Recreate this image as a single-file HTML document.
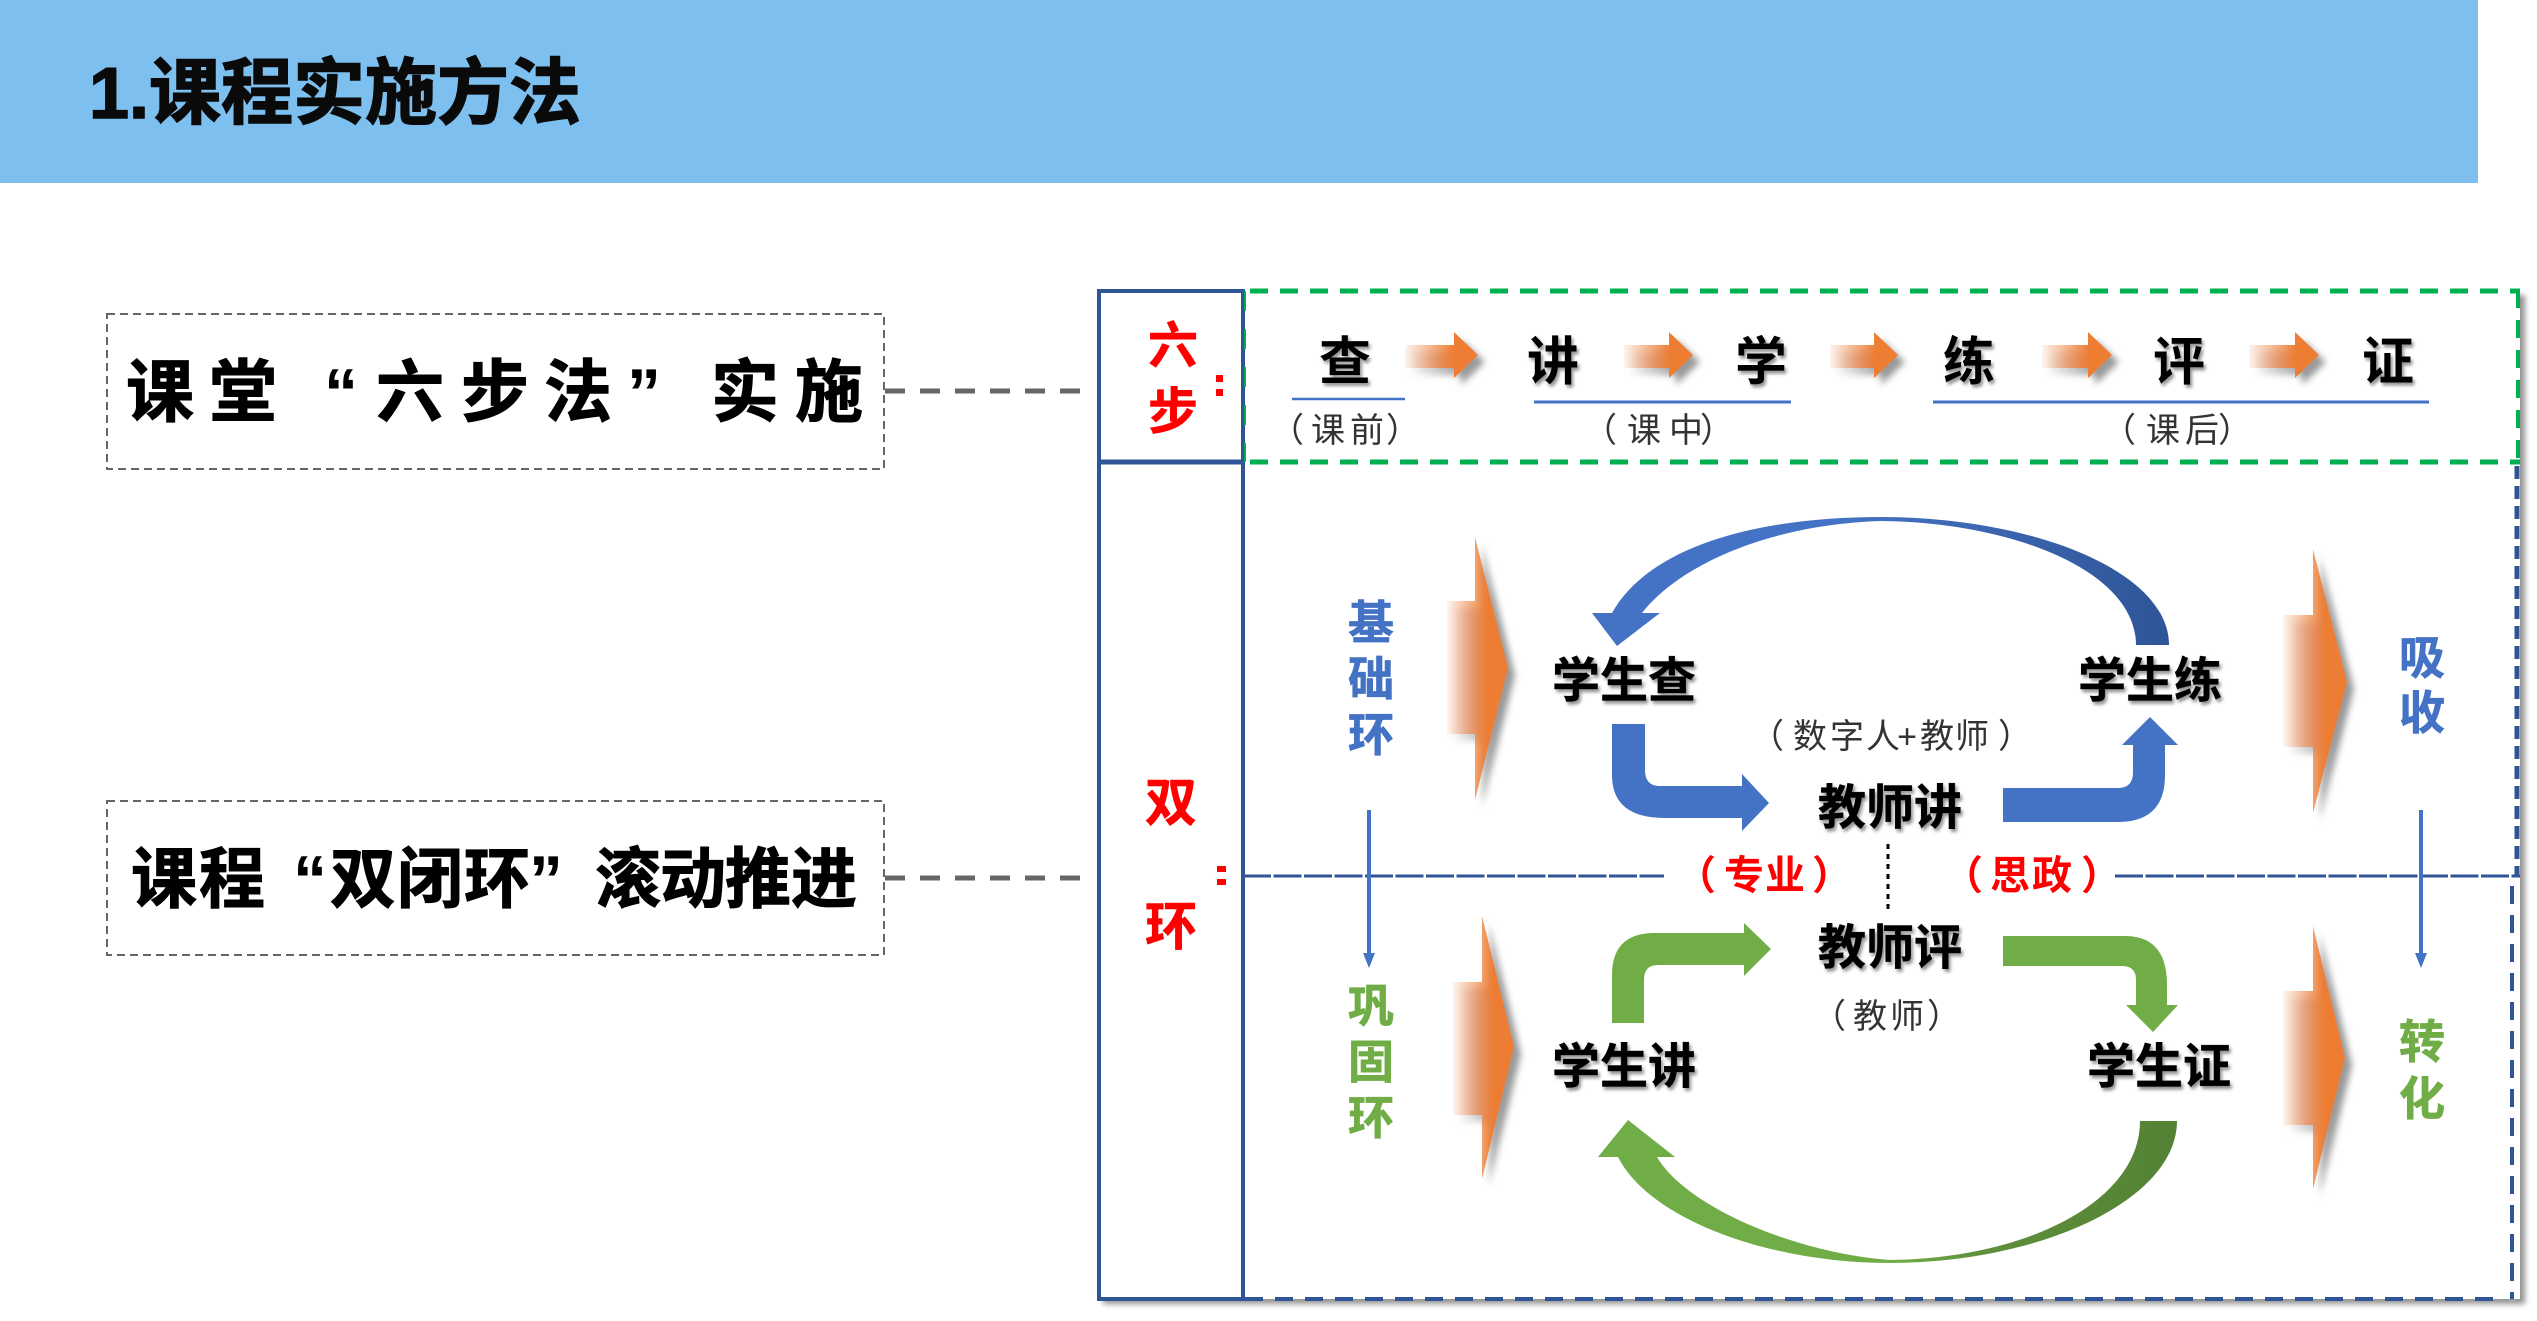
<!DOCTYPE html>
<html lang="zh"><head><meta charset="utf-8"><title>课程实施方法</title>
<style>
html,body{margin:0;padding:0;background:#fff;width:2537px;height:1321px;overflow:hidden}
svg{display:block}
text{font-family:"Liberation Sans","Noto Sans CJK SC",sans-serif}
.b{font-weight:700}
</style></head><body>
<svg width="2537" height="1321" viewBox="0 0 2537 1321" xmlns="http://www.w3.org/2000/svg">
<defs>
<linearGradient id="o"><stop offset="0" stop-color="#ED7D31" stop-opacity=".08"/><stop offset=".68" stop-color="#ED7D31"/><stop offset="1" stop-color="#ED7D31"/></linearGradient>
<linearGradient id="ba" gradientUnits="userSpaceOnUse" x1="2169" y1="0" x2="1850" y2="0"><stop offset="0" stop-color="#2F5597"/><stop offset="1" stop-color="#4472C4"/></linearGradient>
<linearGradient id="ga" gradientUnits="userSpaceOnUse" x1="2177" y1="0" x2="1900" y2="0"><stop offset="0" stop-color="#548235"/><stop offset=".7" stop-color="#5f8f3c"/><stop offset="1" stop-color="#70AD47"/></linearGradient>
<filter id="s" x="-30%" y="-30%" width="170%" height="170%"><feDropShadow dx="7" dy="7" stdDeviation="3.5" flood-color="#777" flood-opacity=".75"/></filter>
<filter id="f" x="-5%" y="-5%" width="110%" height="110%"><feDropShadow dx="5" dy="5" stdDeviation="3" flood-color="#777" flood-opacity=".8"/></filter>
<filter id="t" x="-10%" y="-10%" width="120%" height="120%"><feDropShadow dx="2" dy="3" stdDeviation="1.5" flood-color="#777" flood-opacity=".8"/></filter>
</defs>

<!-- header -->
<rect x="0" y="0" width="2478" height="183" fill="#7DBFEE"/>
<text x="89" y="118" class="b" font-size="72" fill="#0a0a0a" stroke="#0a0a0a" stroke-width="1.5">1.课程实施方法</text>

<!-- left boxes -->
<rect x="107" y="314" width="777" height="155" fill="none" stroke="#666" stroke-width="2" stroke-dasharray="8 5"/>
<rect x="107" y="801" width="777" height="154" fill="none" stroke="#666" stroke-width="2" stroke-dasharray="8 5"/>
<path d="M885 391H1080M885 878H1080" stroke="#666" stroke-width="5" stroke-dasharray="20 15" fill="none"/>
<text class="b" font-size="68" fill="#000" stroke="#000" stroke-width="1" y="416" text-anchor="middle" x="160 243 410 495 578 745 829">课堂六步法实施</text>
<text class="b" font-size="68" fill="#000" y="416" text-anchor="middle" x="341 644">“”</text>
<text class="b" font-size="66" fill="#000" stroke="#000" stroke-width="1" y="902" text-anchor="middle" x="164 232 363 430 497 628 693 758 824">课程双闭环滚动推进</text>
<text class="b" font-size="68" fill="#000" y="903" text-anchor="middle" x="310 546">“”</text>

<!-- main frame -->
<rect x="1098" y="290" width="1422" height="1009" fill="#fff" filter="url(#f)"/>
<rect x="1099" y="291" width="144" height="1008" fill="none" stroke="#2F5597" stroke-width="4"/>
<path d="M1098 462H1243" stroke="#2F5597" stroke-width="5"/>
<path d="M1245 291V462" stroke="#00B050" stroke-width="2" stroke-dasharray="20 18" fill="none"/>
<path d="M1250 291H2520M1250 462H2520" stroke="#00B050" stroke-width="5" stroke-dasharray="18 12" fill="none"/>
<path d="M2518 290V462" stroke="#00B050" stroke-width="4" stroke-dasharray="18 12" fill="none"/>
<path d="M2517 466V875" stroke="#2F5597" stroke-width="5" stroke-dasharray="13 7" fill="none"/>
<path d="M2512 886V1299" stroke="#2F5597" stroke-width="4" stroke-dasharray="18 11" fill="none"/>
<path d="M1245 1299H2505" stroke="#2F5597" stroke-width="4" stroke-dasharray="18 12" fill="none"/>
<path d="M1243 876H1664M2115 876H2520" stroke="#2F5597" stroke-width="3" stroke-dasharray="28 2.5" fill="none"/>

<!-- 六步 / 双环 labels -->
<text class="b" font-size="50" fill="#f00" stroke="#f00" stroke-width=".6" y="363" text-anchor="middle" x="1173">六</text>
<text class="b" font-size="50" fill="#f00" stroke="#f00" stroke-width=".6" y="429" text-anchor="middle" x="1173">步</text>
<rect x="1216" y="375" width="7" height="7" fill="#f00"/><rect x="1216" y="389" width="7" height="7" fill="#f00"/>
<text x="1212" y="392" font-size="1" fill="#f00">：</text>
<text class="b" font-size="52" fill="#f00" stroke="#f00" stroke-width=".6" y="821" text-anchor="middle" x="1171">双</text>
<text class="b" font-size="52" fill="#f00" stroke="#f00" stroke-width=".6" y="945" text-anchor="middle" x="1171">环</text>
<rect x="1217" y="866" width="9" height="6" fill="#f00"/><rect x="1217" y="879" width="9" height="6" fill="#f00"/>
<text x="1212" y="880" font-size="1" fill="#f00">：</text>

<!-- top row -->
<g filter="url(#t)"><text class="b" font-size="52" fill="#000" y="380" text-anchor="middle" x="1345 1553 1761 1969 2179 2388">查讲学练评证</text></g>
<g fill="url(#o)" filter="url(#s)">
<path d="M1405 345H1454V332L1478 355L1454 378V368H1405Z"/>
<path d="M1624 345H1669V332L1693 355L1669 378V368H1624Z"/>
<path d="M1830 345H1874V332L1898 355L1874 378V368H1830Z"/>
<path d="M2042 345H2088V332L2112 355L2088 378V368H2042Z"/>
<path d="M2249 345H2295V332L2319 355L2295 378V368H2249Z"/>
</g>
<path d="M1292 399H1405" stroke="#4472C4" stroke-width="2.5"/>
<path d="M1534 402H1791M1933 402H2429" stroke="#4472C4" stroke-width="3"/>
<text y="442" fill="#333" text-anchor="middle" font-size="34" x="1287 1328 1367 1403">（课前）</text>
<text y="442" fill="#333" text-anchor="middle" font-size="34" x="1600 1644 1686 1717">（课中）</text>
<text y="442" fill="#333" text-anchor="middle" font-size="34" x="2119 2163 2202 2235">（课后）</text>

<!-- big orange arrows -->
<g fill="url(#o)" filter="url(#s)">
<path d="M1447 601H1475V537L1508 668L1475 800V734H1447Z"/>
<path d="M1453 982H1482V916L1514 1047L1482 1179V1115H1453Z"/>
<path d="M2283 615H2313V549L2347 682L2313 813V747H2283Z"/>
<path d="M2283 991H2313V926L2345 1058L2313 1189V1125H2283Z"/>
</g>

<!-- side labels -->
<g class="b" font-size="46" text-anchor="middle" stroke-width=".7">
<text fill="#4472C4" stroke="#4472C4" x="1371" y="639">基</text><text fill="#4472C4" stroke="#4472C4" x="1371" y="695">础</text><text fill="#4472C4" stroke="#4472C4" x="1371" y="751">环</text>
<text fill="#70AD47" stroke="#70AD47" x="1371" y="1022">巩</text><text fill="#70AD47" stroke="#70AD47" x="1371" y="1078">固</text><text fill="#70AD47" stroke="#70AD47" x="1371" y="1134">环</text>
<text fill="#4472C4" stroke="#4472C4" x="2422" y="674">吸</text><text fill="#4472C4" stroke="#4472C4" x="2422" y="729">收</text>
<text fill="#70AD47" stroke="#70AD47" x="2422" y="1058">转</text><text fill="#70AD47" stroke="#70AD47" x="2422" y="1115">化</text>
</g>
<path d="M1369 810V955M2421 810V955" stroke="#4472C4" stroke-width="4"/>
<path d="M1363 953H1375L1369 968ZM2415 953H2427L2421 968Z" fill="#4472C4"/>

<!-- blue arc + elbows -->
<path d="M2169 645C2169 570 2030 517 1881 517C1760 517 1650 545 1612 613L1592 613L1617 646L1660 613L1642 613C1675 570 1760 525 1881 521C2010 522 2136 570 2136 645Z" fill="url(#ba)"/>
<path d="M1612 724H1645V770Q1645 786 1660 786H1742V774L1769 803L1742 831V818H1665Q1612 818 1612 775Z" fill="#4472C4"/>
<path d="M2003 788H2118Q2133 788 2133 772V745H2122L2150 717L2178 745H2165V775Q2165 822 2118 822H2003Z" fill="#4472C4"/>

<!-- green arc + elbows -->
<path d="M2177 1121C2177 1200 2040 1263 1890 1263C1770 1263 1650 1220 1618 1157L1598 1157L1628 1120L1675 1157L1657 1157C1685 1205 1790 1252 1890 1260C2030 1258 2140 1200 2140 1121Z" fill="url(#ga)"/>
<path d="M1612 1023V975Q1612 933 1655 933H1744V923L1771 949L1744 976V965H1658Q1644 965 1644 980V1023Z" fill="#70AD47"/>
<path d="M2003 936H2125Q2167 936 2167 985V1005H2178L2153 1032L2126 1005H2136V980Q2136 966 2122 966H2003Z" fill="#70AD47"/>

<!-- centre labels -->
<g filter="url(#t)" class="b" font-size="48" fill="#000" stroke="#000" stroke-width=".5" text-anchor="middle">
<text x="1624" y="697">学生查</text>
<text x="2150" y="697">学生练</text>
<text x="1890" y="824">教师讲</text>
<text x="1890" y="964">教师评</text>
<text x="1624" y="1083">学生讲</text>
<text x="2159" y="1083">学生证</text>
</g>
<text font-size="34" fill="#333" y="748" text-anchor="middle" x="1767 1810 1847 1883 1907 1937 1972 2015">（数字人+教师）</text>
<text font-size="34" fill="#333" y="1028" text-anchor="middle" x="1829 1870 1907 1944">（教师）</text>
<text class="b" font-size="40" fill="#f00" y="889" text-anchor="middle" x="1696 1744 1785 1832">（专业）</text>
<text class="b" font-size="40" fill="#f00" y="889" text-anchor="middle" x="1963 2010 2052 2101">（思政）</text>
<path d="M1888 844V910" stroke="#000" stroke-width="3" stroke-dasharray="5 5" fill="none"/>
</svg>
</body></html>
